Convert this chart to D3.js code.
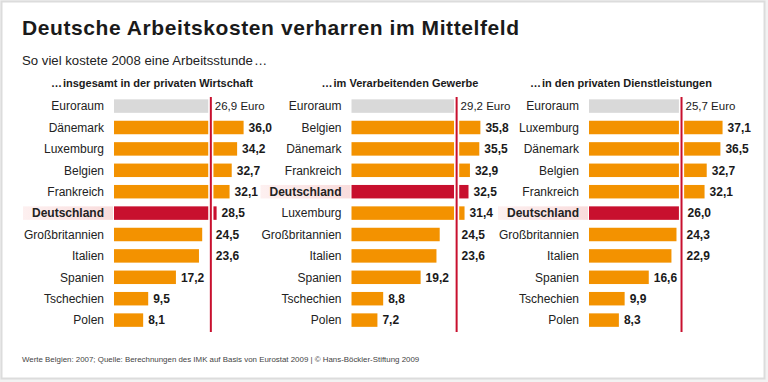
<!DOCTYPE html>
<html><head><meta charset="utf-8">
<script src="https://cdn.jsdelivr.net/npm/d3@7"></script>
<style>
html,body{margin:0;padding:0;background:#fff;}
text{font-family:"Liberation Sans",Arial,Helvetica,sans-serif;}
</style></head>
<body><svg id="c" width="768" height="382"></svg>
<script>
const title = "Deutsche Arbeitskosten verharren im Mittelfeld";
const subtitle = "So viel kostete 2008 eine Arbeitsstunde\u200a\u2026";
const footer = "Werte Belgien: 2007; Quelle: Berechnungen des IMK auf Basis von Eurostat 2009 | \u00a9 Hans-B\u00f6ckler-Stiftung 2009";
const panelTitles = ["\u2026\u200ainsgesamt in der privaten Wirtschaft", "\u2026\u200aim Verarbeitenden Gewerbe", "\u2026\u200ain den privaten Dienstleistungen"];
const countries1 = ["Euroraum","Dänemark","Luxemburg","Belgien","Frankreich","Deutschland","Großbritannien","Italien","Spanien","Tschechien","Polen"];
const values1 = [26.9,36.0,34.2,32.7,32.1,28.5,24.5,23.6,17.2,9.5,8.1];
const countries2 = ["Euroraum","Belgien","Dänemark","Frankreich","Deutschland","Luxemburg","Großbritannien","Italien","Spanien","Tschechien","Polen"];
const values2 = [29.2,35.8,35.5,32.9,32.5,31.4,24.5,23.6,19.2,8.8,7.2];
const countries3 = ["Euroraum","Luxemburg","Dänemark","Belgien","Frankreich","Deutschland","Großbritannien","Italien","Spanien","Tschechien","Polen"];
const values3 = [25.7,37.1,36.5,32.7,32.1,26.0,24.3,22.9,16.6,9.9,8.3];

const panels = [
  {title: panelTitles[0], cats: countries1, vals: values1},
  {title: panelTitles[1], cats: countries2, vals: values2},
  {title: panelTitles[2], cats: countries3, vals: values3}
];

const svg = d3.select("#c");
const W = 768, H = 382;
const fmt = v => d3.format(".1f")(v).replace(".", ",");

// frame
svg.append("rect").attr("x",0).attr("y",0).attr("width",W).attr("height",H).attr("fill","#f2f2f2");
svg.append("rect").attr("x",1.5).attr("y",1.5).attr("width",763).attr("height",377)
  .attr("fill","#fff").attr("stroke","#dcdcdc").attr("stroke-width",2);

const defs = svg.append("defs");
const grad = defs.append("linearGradient").attr("id","pink");
grad.append("stop").attr("offset","0%").attr("stop-color","#fdf0f0");
grad.append("stop").attr("offset","100%").attr("stop-color","#f9dcdc");

svg.append("text").attr("x",22).attr("y",35).attr("font-size",21).attr("font-weight","bold")
  .attr("fill","#1a1a1a").attr("textLength",497).attr("lengthAdjust","spacing").text(title);
svg.append("text").attr("x",22).attr("y",65).attr("font-size",13.2).attr("fill","#222").text(subtitle);
svg.append("text").attr("x",22).attr("y",362).attr("font-size",7.9).attr("fill","#444").text(footer);

const x = d3.scaleLinear().domain([0, 40]).range([0, 144]);
const panelX = [114, 351.5, 589];
const titleCx = [152, 400, 621];

panels.forEach((p, pi) => {
  const g = svg.append("g").attr("transform", `translate(${panelX[pi]},0)`);
  const y = d3.scaleBand().domain(d3.range(p.cats.length)).range([95.4, 95.4 + 11*21.4])
    .paddingInner(0.37).paddingOuter(0.185);
  const euro = p.vals[0];
  const lineX = x(euro);

  svg.append("text").attr("x", titleCx[pi]).attr("y", 87).attr("text-anchor","middle")
    .attr("font-size",11).attr("font-weight","bold").attr("fill","#1a1a1a").text(p.title);

  // highlight band for Deutschland
  const di = p.cats.indexOf("Deutschland");
  g.append("rect").attr("x",-91).attr("y",y(di)).attr("width",90).attr("height",y.bandwidth())
    .attr("fill","url(#pink)");

  g.selectAll("rect.bar").data(p.vals).join("rect").attr("class","bar")
    .attr("x",0).attr("y",(d,i)=>y(i)).attr("width",d=>x(d)).attr("height",y.bandwidth())
    .attr("fill",(d,i)=> i===0 ? "#d9d9d9" : (p.cats[i]==="Deutschland" ? "#c8102e" : "#f39200"));

  g.selectAll("text.cat").data(p.cats).join("text").attr("class","cat")
    .attr("x",-10).attr("y",(d,i)=>y(i)+y.bandwidth()/2).attr("dy","0.36em")
    .attr("text-anchor","end").attr("font-size",12)
    .attr("font-weight",d=>d==="Deutschland"?"bold":"normal").attr("fill","#222").text(d=>d);

  // white gap and red reference line
  g.append("rect").attr("x",lineX-2.6).attr("y",96).attr("width",5.2).attr("height",237).attr("fill","#fff");
  g.append("line").attr("x1",lineX).attr("x2",lineX).attr("y1",97).attr("y2",332)
    .attr("stroke","#c8102e").attr("stroke-width",2);

  g.selectAll("text.val").data(p.vals).join("text").attr("class","val")
    .attr("x",(d,i)=>{
      if (i===0) return lineX + 4;
      const end = x(d);
      if (end > lineX - 28) return Math.max(end, lineX) + 5;
      return end + 5;
    })
    .attr("y",(d,i)=>y(i)+y.bandwidth()/2).attr("dy","0.36em")
    .attr("font-size",(d,i)=> i===0 ? 11.5 : 12)
    .attr("font-weight",(d,i)=> i===0 ? "normal" : "bold")
    .attr("fill","#1a1a1a")
    .text((d,i)=> i===0 ? fmt(d) + " Euro" : fmt(d));
});
</script></body></html>
